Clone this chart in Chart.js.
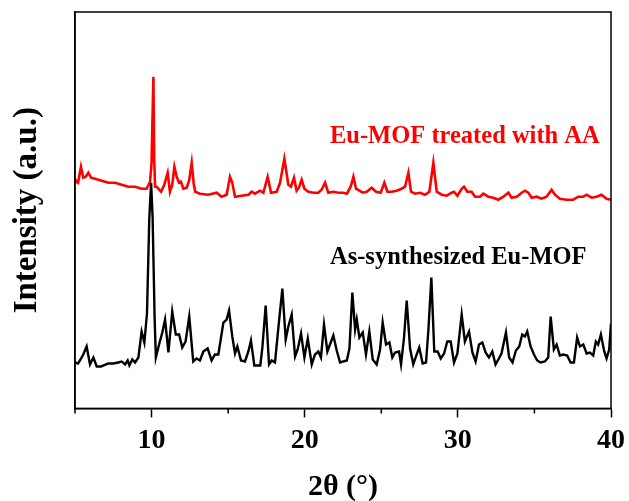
<!DOCTYPE html>
<html>
<head>
<meta charset="utf-8">
<script src="https://cdn.jsdelivr.net/npm/chart.js@4.4.0/dist/chart.umd.min.js"></script>
<style>
  body { margin: 0; background: #fff; }
  canvas { display: block; }
</style>
</head>
<body>
<canvas id="xrd" width="629" height="501"></canvas>
<script>
// 2theta positions and intensities (arbitrary units)
const blackTheta = [5.0, 5.2, 5.4, 5.54, 5.76, 5.98, 6.2, 6.42, 6.7, 7.18, 7.5, 7.83, 8.05, 8.27, 8.44, 8.55, 8.74, 8.92, 9.14, 9.35, 9.53, 9.7, 9.85, 9.97, 10.07, 10.2, 10.28, 10.49, 10.7, 10.88, 11.1, 11.35, 11.58, 11.8, 12.0, 12.22, 12.46, 12.72, 12.94, 13.16, 13.38, 13.66, 13.92, 14.14, 14.36, 14.69, 14.9, 15.06, 15.27, 15.45, 15.6, 15.84, 16.1, 16.32, 16.49, 16.71, 17.1, 17.23, 17.45, 17.67, 17.85, 18.06, 18.28, 18.54, 18.76, 18.93, 19.15, 19.37, 19.54, 19.76, 19.98, 20.2, 20.46, 20.67, 20.89, 21.06, 21.26, 21.48, 21.65, 21.87, 22.09, 22.31, 22.52, 22.75, 22.92, 23.11, 23.29, 23.4, 23.57, 23.79, 24.0, 24.22, 24.44, 24.7, 24.92, 25.09, 25.31, 25.53, 25.72, 25.9, 26.16, 26.29, 26.48, 26.66, 26.88, 27.09, 27.31, 27.48, 27.7, 27.92, 28.07, 28.27, 28.46, 28.68, 28.88, 29.1, 29.31, 29.53, 29.75, 29.97, 30.25, 30.46, 30.73, 30.95, 31.16, 31.38, 31.6, 31.81, 32.03, 32.25, 32.46, 32.68, 32.85, 33.14, 33.35, 33.57, 33.79, 34.01, 34.2, 34.38, 34.53, 34.75, 34.97, 35.18, 35.4, 35.68, 35.9, 36.06, 36.27, 36.45, 36.66, 36.88, 37.14, 37.36, 37.58, 37.79, 37.97, 38.19, 38.41, 38.62, 38.84, 39.01, 39.16, 39.34, 39.56, 39.71, 39.88, 40.0];
const blackCounts = [46, 45, 50, 54, 62, 44, 51, 42, 42, 45, 45, 46, 47, 44, 48, 43, 49, 46, 51, 77, 66, 95, 190, 226, 190, 90, 51, 64, 76, 89, 56, 97, 74, 74, 61, 67, 92, 47, 50, 48, 57, 60, 48, 54, 54, 86, 89, 98, 72, 55, 62, 48, 47, 57, 68, 43, 43, 60, 103, 44, 48, 46, 81, 120, 69, 82, 94, 52, 59, 75, 51, 70, 44, 54, 57, 51, 84, 57, 64, 73, 58, 46, 47, 48, 60, 116, 79, 89, 71, 76, 54, 77, 49, 44, 59, 86, 64, 66, 51, 56, 57, 44, 70, 108, 60, 44, 54, 61, 45, 46, 77, 131, 57, 57, 50, 55, 67, 67, 46, 55, 94, 67, 77, 56, 47, 64, 66, 56, 51, 57, 44, 50, 55, 76, 51, 46, 58, 62, 74, 72, 77, 62, 54, 48, 46, 47, 51, 92, 59, 64, 53, 54, 53, 46, 46, 71, 62, 64, 55, 56, 53, 67, 64, 74, 57, 50, 59, 85];

const redTheta = [5.0, 5.1, 5.2, 5.39, 5.54, 5.7, 5.87, 6.05, 6.31, 6.74, 7.18, 7.61, 8.05, 8.48, 8.92, 9.35, 9.68, 9.9, 10.0, 10.06, 10.12, 10.17, 10.23, 10.33, 10.62, 10.83, 11.05, 11.2, 11.35, 11.49, 11.64, 11.8, 11.92, 12.07, 12.29, 12.45, 12.62, 12.75, 12.85, 13.16, 13.7, 14.25, 14.57, 14.9, 15.12, 15.27, 15.45, 15.88, 16.32, 16.54, 16.75, 17.08, 17.3, 17.58, 17.8, 18.17, 18.39, 18.67, 18.93, 19.1, 19.3, 19.47, 19.62, 19.8, 19.98, 20.24, 20.57, 20.89, 21.1, 21.33, 21.54, 21.87, 22.2, 22.52, 22.75, 23.0, 23.18, 23.35, 23.57, 23.79, 24.05, 24.37, 24.66, 24.96, 25.2, 25.4, 25.68, 26.0, 26.33, 26.55, 26.77, 26.94, 27.2, 27.53, 27.85, 28.14, 28.4, 28.62, 28.95, 29.27, 29.6, 29.75, 29.97, 30.25, 30.4, 30.62, 30.9, 31.12, 31.45, 31.66, 31.99, 32.31, 32.64, 32.97, 33.3, 33.51, 33.84, 34.17, 34.38, 34.6, 34.82, 35.14, 35.47, 35.79, 36.12, 36.34, 36.66, 37.1, 37.53, 37.86, 38.19, 38.41, 38.73, 39.06, 39.38, 39.71, 40.0];
const redCounts = [230, 227, 226, 242, 231, 232, 236, 231, 230, 228, 226, 226, 224, 222, 222, 220, 220, 227, 246, 290, 332, 250, 222, 222, 217, 224, 236, 217, 224, 242, 232, 226, 227, 220, 221, 228, 246, 225, 217, 215, 214, 216, 212, 214, 232, 226, 212, 213, 214, 217, 215, 218, 216, 232, 216, 217, 226, 250, 224, 222, 231, 218, 221, 229, 220, 217, 216, 216, 219, 226, 216, 217, 216, 216, 215, 222, 232, 220, 218, 216, 217, 221, 217, 216, 226, 217, 217, 218, 220, 222, 236, 217, 215, 216, 214, 217, 246, 217, 214, 213, 216, 217, 213, 220, 222, 217, 217, 212, 212, 215, 212, 211, 209, 212, 216, 211, 212, 216, 218, 216, 211, 212, 210, 212, 219, 214, 210, 209, 209, 212, 212, 214, 211, 212, 214, 210, 209];

const xTicks = [10, 20, 30, 40];
const minorTicks = [5, 15, 25, 35];

const SERIF = '"Liberation Serif", "Times New Roman", serif';

function pairs(xs, ys) {
    return xs.map((x, i) => ({ x: x, y: ys[i] }));
}

// frame, short minor ticks and the two series labels
const decor = {
    id: 'decor',
    afterDraw(chart) {
        const { ctx, chartArea: a, scales } = chart;
        ctx.save();
        ctx.strokeStyle = '#000';
        ctx.lineWidth = 1.5;
        ctx.strokeRect(a.left, a.top, a.right - a.left, a.bottom - a.top);
        ctx.beginPath();
        minorTicks.forEach(v => {
            const px = scales.x.getPixelForValue(v);
            ctx.moveTo(px, a.bottom);
            ctx.lineTo(px, a.bottom + 5);
        });
        ctx.stroke();

        ctx.font = 'bold 24.5px ' + SERIF;
        ctx.textBaseline = 'alphabetic';
        ctx.textAlign = 'left';
        ctx.fillStyle = '#ff0000';
        ctx.fillText('Eu-MOF treated with AA', scales.x.getPixelForValue(21.65), scales.y.getPixelForValue(266));
        ctx.fillStyle = '#000';
        ctx.fillText('As-synthesized Eu-MOF', scales.x.getPixelForValue(21.65), scales.y.getPixelForValue(145));
        ctx.restore();
    }
};

new Chart(document.getElementById('xrd'), {
    type: 'line',
    data: {
        datasets: [{
            label: 'As-synthesized Eu-MOF',
            data: pairs(blackTheta, blackCounts),
            borderColor: '#000',
            borderWidth: 2.4,
            pointRadius: 0,
            tension: 0
        }, {
            label: 'Eu-MOF treated with AA',
            data: pairs(redTheta, redCounts),
            borderColor: '#ff0000',
            borderWidth: 2.6,
            pointRadius: 0,
            tension: 0
        }]
    },
    options: {
        responsive: false,
        animation: false,
        devicePixelRatio: 1,
        layout: { padding: { left: 0, top: 12, right: 18, bottom: 0 } },
        plugins: {
            legend: { display: false },
            tooltip: { enabled: false }
        },
        scales: {
            x: {
                type: 'linear',
                min: 5,
                max: 40,
                afterBuildTicks(scale) {
                    scale.ticks = xTicks.map(v => ({ value: v }));
                },
                afterFit(scale) {
                    // let the layout padding decide the right edge, not the "40" label
                    scale.paddingRight = 0;
                    scale.paddingLeft = 0;
                },
                border: { color: '#000', width: 1.5 },
                grid: {
                    drawOnChartArea: false,
                    drawTicks: true,
                    tickLength: 9,
                    tickColor: '#000',
                    tickWidth: 1.5
                },
                ticks: {
                    autoSkip: false,
                    maxRotation: 0,
                    padding: 7,
                    color: '#000',
                    font: { family: SERIF, size: 28, weight: 'bold', lineHeight: 1.2 }
                },
                title: {
                    display: true,
                    text: '2θ (°)',
                    color: '#000',
                    padding: { top: 9, bottom: 0 },
                    font: { family: SERIF, size: 30, weight: 'bold', lineHeight: 0.9 }
                }
            },
            y: {
                min: 0,
                max: 397,
                border: { color: '#000', width: 1.5 },
                grid: { display: false, drawTicks: false },
                ticks: { display: false },
                title: {
                    display: true,
                    text: 'Intensity (a.u.)',
                    color: '#000',
                    padding: { top: 10.5, bottom: 31.5 },
                    font: { family: SERIF, size: 33, weight: 'bold', lineHeight: 1 }
                }
            }
        }
    },
    plugins: [decor]
});
</script>
</body>
</html>
